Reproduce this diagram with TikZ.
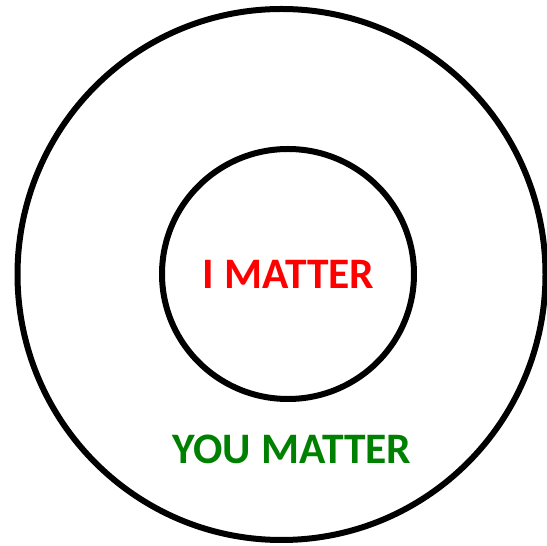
\documentclass[tikz,border=0pt]{standalone}
\usepackage{fontspec}
\setmainfont{Carlito}
\definecolor{mred}{RGB}{255,0,0}
\definecolor{mgreen}{RGB}{0,128,0}
\begin{document}
\begin{tikzpicture}[x=1pt,y=1pt,
  ring/.style={line width=6pt,draw=black},
  label/.style={font=\bfseries\fontsize{43.5}{52}\selectfont,anchor=base,inner sep=0pt}]
\useasboundingbox (0,0) rectangle (547,546);
\draw[ring] (281.5,271.5) ellipse [x radius=264, y radius=265.5];
\draw[ring] (288,272) ellipse [x radius=126, y radius=125];
\node[label,text=mred] (me) at (288.5,257) {I MATTER};
\node[label,text=mgreen] (you) at (292,82) {YOU MATTER};
\end{tikzpicture}
\end{document}
